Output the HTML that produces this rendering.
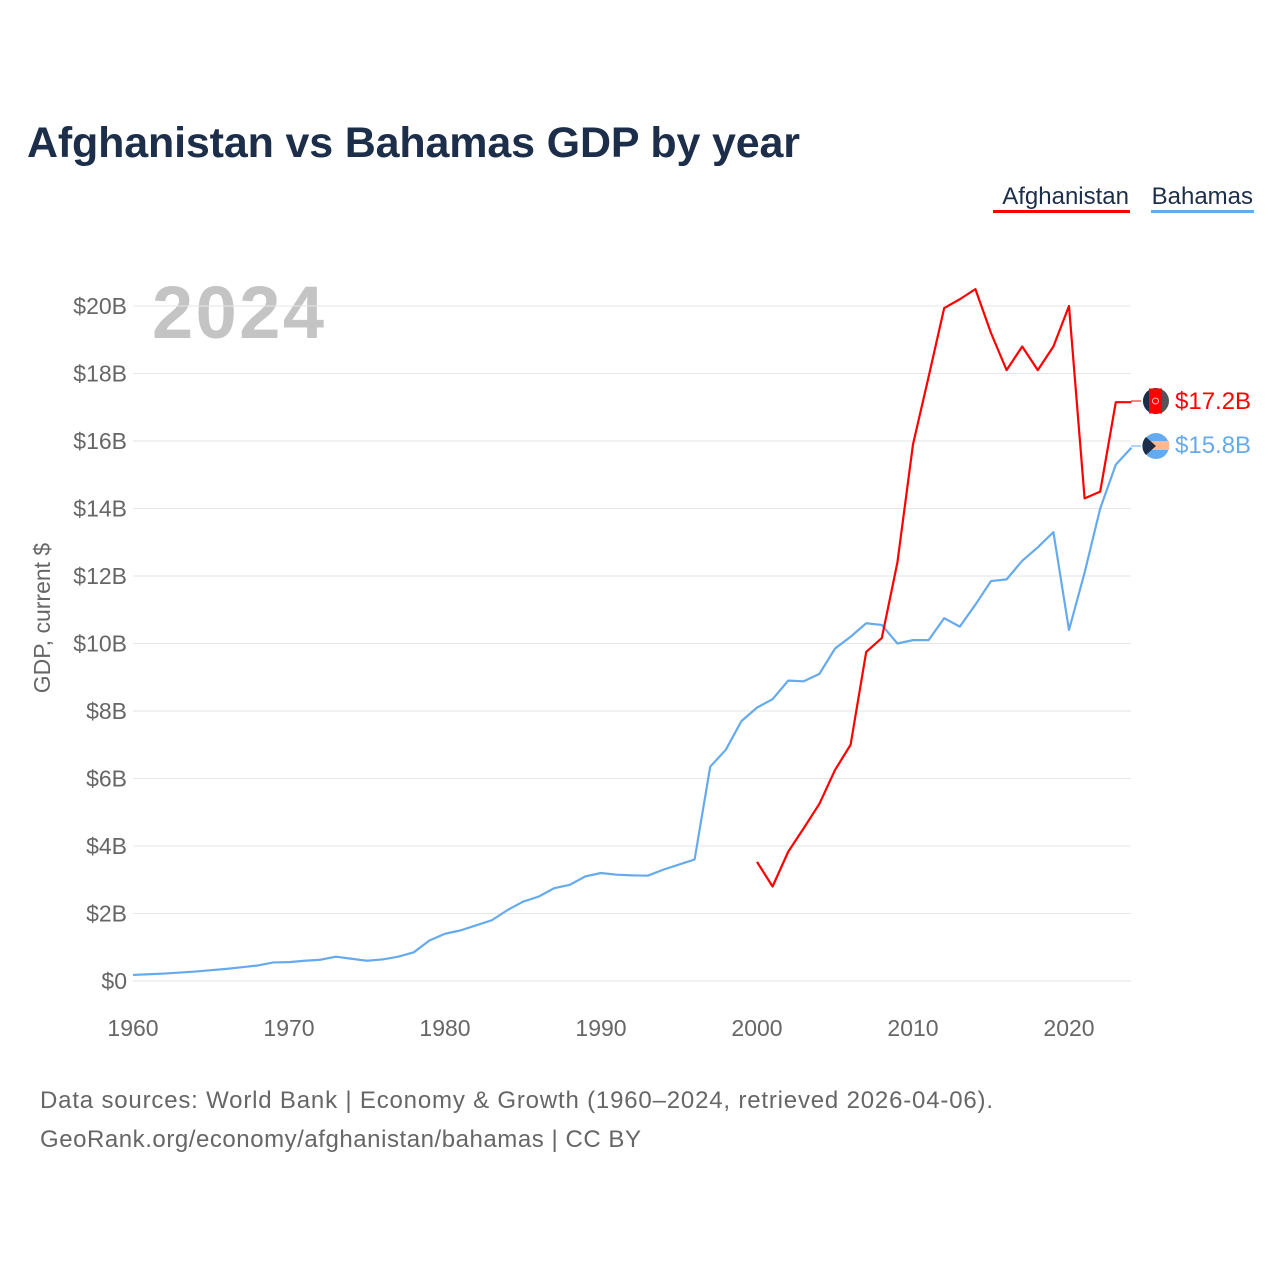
<!DOCTYPE html>
<html><head><meta charset="utf-8"><style>
body{margin:0;background:#fff;font-family:"Liberation Sans",sans-serif;}
svg text{font-family:"Liberation Sans",sans-serif;}
</style></head><body>
<svg id="chart" width="1280" height="1280">
<text x="27" y="157" font-size="43" font-weight="bold" fill="#1c2e4a" textLength="773">Afghanistan vs Bahamas GDP by year</text>
<g>
<text x="1129" y="204" font-size="24" fill="#1c2e4a" text-anchor="end">Afghanistan</text>
<rect x="993" y="210" width="137" height="3" fill="#ff0000"/>
<text x="1253" y="204" font-size="24" fill="#1c2e4a" text-anchor="end">Bahamas</text>
<rect x="1151" y="210" width="103" height="3" fill="#66aaee"/>
</g>
<text x="152" y="338" font-size="74" font-weight="bold" fill="#c4c4c4" textLength="172">2024</text>
<text transform="translate(50,618) rotate(-90)" font-size="23" fill="#666" text-anchor="middle">GDP, current $</text>
<g id="grid"></g><g id="yt"></g><g id="xt"></g><g id="lines"></g>
<g>
<line x1="1131" y1="401" x2="1141" y2="401" stroke="#ff0000" stroke-width="1"/>
<circle cx="1156" cy="401" r="13" fill="#555"/>
<path d="M1156 388 A13 13 0 0 0 1156 414 Z" fill="#1c2e4a"/>
<rect x="1149" y="388.5" width="13" height="25" fill="#ff0000"/>
<circle cx="1155.5" cy="401" r="3" fill="none" stroke="#fbb" stroke-width="1"/>
<text x="1175" y="409" font-size="24" fill="#ff0000">$17.2B</text>
<line x1="1131" y1="446" x2="1141" y2="446" stroke="#66aaee" stroke-width="1"/>
<circle cx="1156" cy="446" r="13" fill="#66aaee"/>
<rect x="1143" y="441" width="26" height="9" fill="#fbb894"/>
<path d="M1146 437 L1156 446 L1146 455 A13 13 0 0 1 1146 437 Z" fill="#1c2e4a"/>
<text x="1175" y="453" font-size="24" fill="#66aaee">$15.8B</text>
</g>
<text x="40" y="1108" font-size="24" fill="#666" textLength="953">Data sources: World Bank | Economy &amp; Growth (1960–2024, retrieved 2026-04-06).</text>
<text x="40" y="1147" font-size="24" fill="#666" textLength="601">GeoRank.org/economy/afghanistan/bahamas | CC BY</text>
</svg>
<script>
const yTicks=[0,2,4,6,8,10,12,14,16,18,20];
const xTicks=[1960,1970,1980,1990,2000,2010,2020];
const afgYears=[2000,2001,2002,2003,2004,2005,2006,2007,2008,2009,2010,2011,2012,2013,2014,2015,2016,2017,2018,2019,2020,2021,2022,2023,2024];
const afgValues=[3.53,2.8,3.83,4.53,5.25,6.25,7.0,9.75,10.16,12.4,15.9,17.9,19.94,20.2,20.5,19.2,18.1,18.8,18.1,18.8,20.0,14.3,14.5,17.15,17.15];
const bhsStartYear=1960;
const bhsValues=[0.18,0.2,0.22,0.25,0.28,0.32,0.36,0.41,0.46,0.55,0.56,0.6,0.63,0.72,0.66,0.6,0.64,0.72,0.85,1.2,1.4,1.5,1.65,1.8,2.1,2.35,2.5,2.75,2.85,3.1,3.2,3.15,3.13,3.12,3.3,3.45,3.6,6.35,6.85,7.7,8.1,8.35,8.9,8.88,9.1,9.85,10.2,10.6,10.55,10.0,10.1,10.1,10.75,10.5,11.15,11.85,11.9,12.45,12.85,13.3,10.4,12.1,14.0,15.3,15.8];
const NS='http://www.w3.org/2000/svg';
const X=y=>133+(y-1960)*15.6;
const Y=v=>981-v*33.75;
function mk(tag,attrs,parent){const e=document.createElementNS(NS,tag);for(const k in attrs)e.setAttribute(k,attrs[k]);document.getElementById(parent).appendChild(e);return e;}
yTicks.forEach(v=>{
 const l=mk('line',{x1:133,x2:1131,y1:Y(v),y2:Y(v),stroke:'#e6e6e6','stroke-width':1},'grid');
 
 
 const t=mk('text',{x:127,y:Y(v)+8,'font-size':23,fill:'#666','text-anchor':'end'},'yt');
 t.textContent='$'+v+(v===0?'':'B');
 
 
});
xTicks.forEach(y=>{
 const t=mk('text',{x:X(y),y:1036,'font-size':23,fill:'#666','text-anchor':'middle'},'xt');
 t.textContent=y;
 
 
});
const bp=mk('polyline',{fill:'none',stroke:'#66aaee','stroke-width':2.2,'stroke-linejoin':'round',points:bhsValues.map((v,i)=>X(bhsStartYear+i)+','+Y(v)).join(' ')},'lines');


const ap=mk('polyline',{fill:'none',stroke:'#ff0000','stroke-width':2.2,'stroke-linejoin':'round',points:afgValues.map((v,i)=>X(afgYears[i])+','+Y(v)).join(' ')},'lines');


</script>
</body></html>
